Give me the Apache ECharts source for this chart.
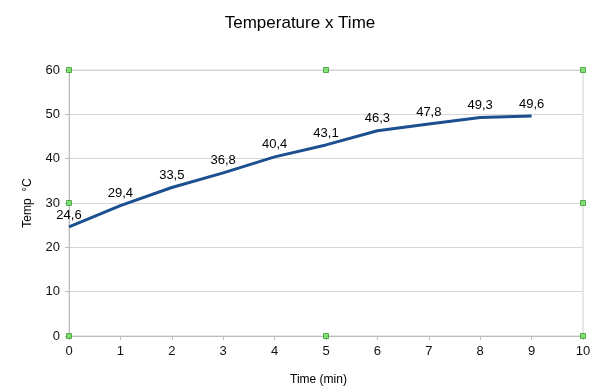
<!DOCTYPE html>
<html>
<head>
<meta charset="utf-8">
<script src="https://cdn.jsdelivr.net/npm/echarts@6/dist/echarts.min.js"></script>
<style>html,body{margin:0;padding:0;background:#fff}#c{width:600px;height:391px}</style>
</head>
<body>
<div id="c"></div>
<script>
const times = [0, 1, 2, 3, 4, 5, 6, 7, 8, 9];
const temps = [24.6, 29.4, 33.5, 36.8, 40.4, 43.1, 46.3, 47.8, 49.3, 49.6];
const handles = [[0, 60], [5, 60], [10, 60], [0, 30], [10, 30], [0, 0], [5, 0], [10, 0]];
const titleText = 'Temperature x Time';
const xName = 'Time (min)';
const yName = 'Temp  °C';

const chart = echarts.init(document.getElementById('c'));
const font = '"Liberation Sans", Arial, Helvetica, sans-serif';
chart.setOption({
  animation: false,
  textStyle: { fontFamily: font },
  title: {
    text: titleText, left: 'center', top: 10,
    textStyle: { fontFamily: font, fontSize: 17, fontWeight: 'normal', color: '#000' }
  },
  grid: { left: 69, right: 17, top: 70, bottom: 55, show: true, borderColor: '#cfcfcf', borderWidth: 1 },
  xAxis: {
    type: 'value', min: 0, max: 10, interval: 1,
    name: xName, nameLocation: 'middle', nameGap: 38,
    nameTextStyle: { fontFamily: font, fontSize: 12, color: '#000', padding: [0, 15, 0, 0] },
    axisLine: { show: true, lineStyle: { color: '#bdbdbd' } },
    axisTick: { show: true, length: 4, lineStyle: { color: '#bdbdbd' } },
    axisLabel: { fontFamily: font, fontSize: 13, color: '#111', margin: 9 },
    splitLine: { show: false }
  },
  yAxis: {
    type: 'value', min: 0, max: 60, interval: 10,
    name: yName, nameLocation: 'middle', nameGap: 35, nameRotate: 90,
    nameTextStyle: { fontFamily: font, fontSize: 12, color: '#000' },
    axisLine: { show: true, lineStyle: { color: '#bdbdbd' } },
    axisTick: { show: true, length: 4, lineStyle: { color: '#bdbdbd' } },
    axisLabel: { fontFamily: font, fontSize: 13, color: '#111', margin: 9 },
    splitLine: { show: true, lineStyle: { color: '#d6d6d6' } }
  },
  series: [
    {
      type: 'line',
      data: times.map((t, i) => [t, temps[i]]),
      showSymbol: true, symbol: 'circle', symbolSize: 1,
      lineStyle: { color: '#1c4f8f', width: 3 },
      itemStyle: { color: 'rgba(0,0,0,0)', borderWidth: 0 },
      label: {
        show: true, position: 'top', distance: 5,
        fontFamily: font, fontSize: 13, color: '#000',
        formatter: p => String(p.value[1]).replace('.', ',')
      },
      labelLayout: { hideOverlap: false },
      z: 3
    },
    {
      type: 'scatter',
      data: handles,
      symbol: 'rect', symbolSize: 5,
      itemStyle: { color: '#66dd55', borderColor: '#3a9a30', borderWidth: 1 },
      silent: true, z: 5
    }
  ]
});
</script>
</body>
</html>
